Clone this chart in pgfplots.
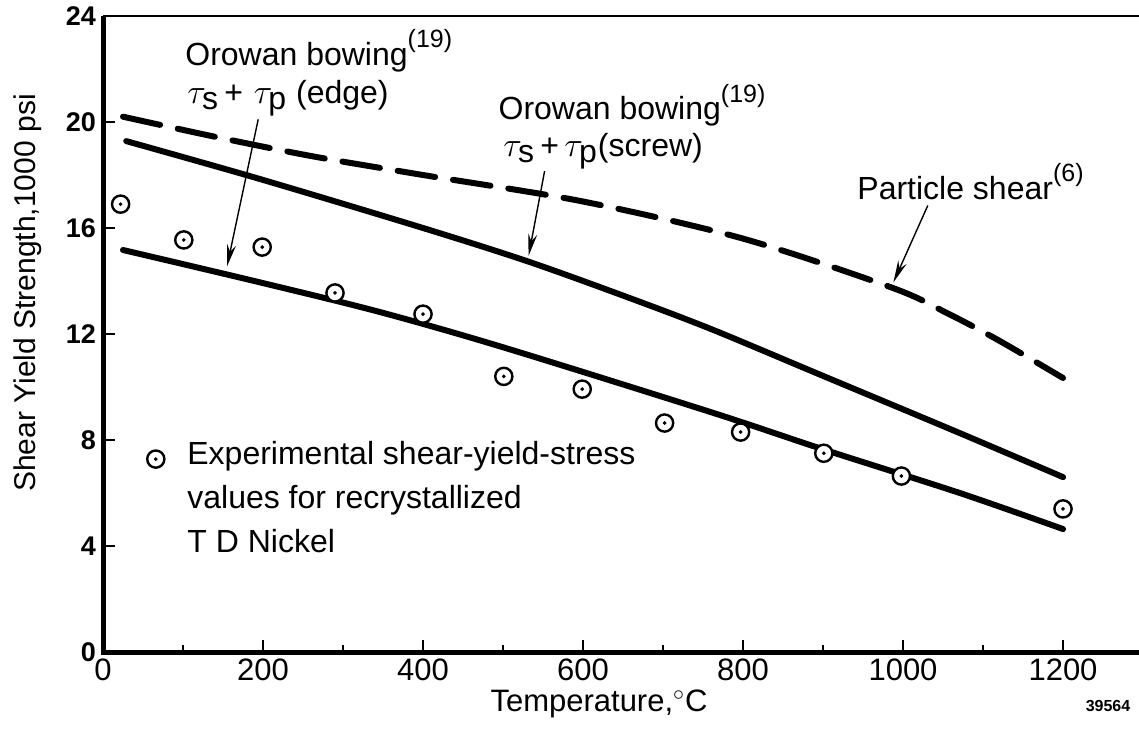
\documentclass[border=0pt]{standalone}
\usepackage{fontspec}
\setmainfont{Liberation Sans}
\usepackage{pgfplots}
\usepackage{pgfplotstable}
\pgfplotsset{compat=1.18}
\usetikzlibrary{arrows.meta}

% Experimental shear-yield-stress values, recrystallized TD nickel
\pgfplotstableread{
T    v
22   16.9
101  15.55
199  15.28
290  13.55
400  12.75
501  10.40
599  9.92
702  8.64
797  8.30
901  7.50
998  6.64
1200 5.40
}\exptdata

% Orowan bowing, tau_s + tau_p (edge)
\pgfplotstableread{
T    v
25   15.17
196  13.95
346  12.83
500  11.50
759  9.06
900  7.65
1071 6.00
1200 4.64
}\edgecurve

% Orowan bowing, tau_s + tau_p (screw)
\pgfplotstableread{
T    v
29   19.28
196  17.85
400  16.00
530  14.75
650  13.45
759  12.20
900  10.42
1071 8.26
1200 6.60
}\screwcurve

% Particle shear
\pgfplotstableread{
T    v
25   20.20
142  19.43
263  18.70
400  18.00
600  17.00
800  15.60
987  13.74
1055 12.79
1119 11.77
1200 10.34
}\sheardata

\newcommand{\lbl}{\fontsize{16}{19}\selectfont}
\newcommand{\refmark}[1]{\raisebox{0.55em}{\fontsize{12.5}{14}\selectfont(#1)}}

\begin{document}
\begin{tikzpicture}
\useasboundingbox (0,0) rectangle (569.5pt,365pt);
\begin{axis}[
  at={(51.5pt,39pt)}, anchor=south west,
  scale only axis, width=520pt, height=318pt,
  xmin=0, xmax=1300, ymin=0, ymax=24,
  clip=false,
  axis line style={draw=none},
  xtick={0,200,...,1200}, minor xtick={100,300,...,1100},
  ytick={0,4,...,24},
  xtick pos=bottom, ytick pos=left,
  tick align=inside, major tick length=6pt, minor tick length=3.5pt,
  tick style={black, line width=0.8pt},
  scaled ticks=false,
  /pgf/number format/assume math mode=true,
  /pgf/number format/1000 sep={},
  xticklabel style={font=\fontsize{15.5}{18}\selectfont},
  yticklabel style={font=\fontsize{13.5}{15}\selectfont\bfseries},
]
% axis frame: heavy left and bottom, light top
\draw[line width=0.75pt] (rel axis cs:0,1) -- (rel axis cs:1,1);
\draw[line width=2.5pt, line join=miter] (rel axis cs:0,1) -- (rel axis cs:0,0) -- (rel axis cs:1,0);

\addplot[black, line width=3pt, smooth, line cap=round] table {\edgecurve};
\addplot[black, line width=3pt, smooth, line cap=round] table {\screwcurve};
\addplot[black, line width=3pt, smooth, line cap=round, dash pattern=on 19pt off 9pt] table {\sheardata};

\addplot[only marks, mark=*, mark size=4.3pt, mark options={draw=black, fill=white, line width=1.2pt}] table {\exptdata};
\addplot[only marks, mark=*, mark size=0.7pt, mark options={black}] table {\exptdata};

% legend symbol
\addplot[only marks, mark=*, mark size=4.3pt, mark options={draw=black, fill=white, line width=1.2pt}] coordinates {(66,7.28)};
\addplot[only marks, mark=*, mark size=0.7pt, mark options={black}] coordinates {(66,7.28)};

% annotations
\node[anchor=base west, inner sep=0, font=\lbl] at (axis cs:102.5,22.15) {Orowan bowing\refmark{19}};
\node[anchor=base west, inner sep=0, font=\lbl] at (axis cs:105,20.68) {$\tau_{\textrm{s}}$\,+\,\,$\tau_{\textrm{p}}$ (edge)};
\draw[line width=0.7pt, -{Stealth[length=11pt,width=4.5pt]}] (axis cs:194,20.1) -- (axis cs:155,14.55);

\node[anchor=base west, inner sep=0, font=\lbl] at (axis cs:494,20.08) {Orowan bowing\refmark{19}};
\node[anchor=base west, inner sep=0, font=\lbl] at (axis cs:500,18.68) {$\tau_{\textrm{s}}$\,+\,$\tau_{\textrm{p}}$(screw)};
\draw[line width=0.7pt, -{Stealth[length=11pt,width=4.5pt]}] (axis cs:552,18.15) -- (axis cs:532,14.95);

\node[anchor=base west, inner sep=0, font=\lbl] at (axis cs:942.5,17.09) {Particle shear\refmark{6}};
\draw[line width=0.7pt, -{Stealth[length=11pt,width=4.5pt]}] (axis cs:1031,16.85) -- (axis cs:988,13.95);

\node[anchor=base west, inner sep=0, font=\lbl] at (axis cs:105,7.06) {Experimental shear-yield-stress};
\node[anchor=base west, inner sep=0, font=\lbl] at (axis cs:105,5.40) {values for recrystallized};
\node[anchor=base west, inner sep=0, font=\lbl] at (axis cs:105,3.74) {T D Nickel};
\end{axis}

\node[rotate=90, font=\fontsize{15}{18}\selectfont] at (14pt,218.5pt) {Shear Yield Strength,1000 psi};
\node[anchor=base, font=\fontsize{15.5}{18}\selectfont] at (299.5pt,9.5pt) {Temperature,$^{\circ}$C};
\node[anchor=base, font=\fontsize{8}{10}\selectfont\bfseries] at (554pt,9.5pt) {39564};
\end{tikzpicture}
\end{document}
